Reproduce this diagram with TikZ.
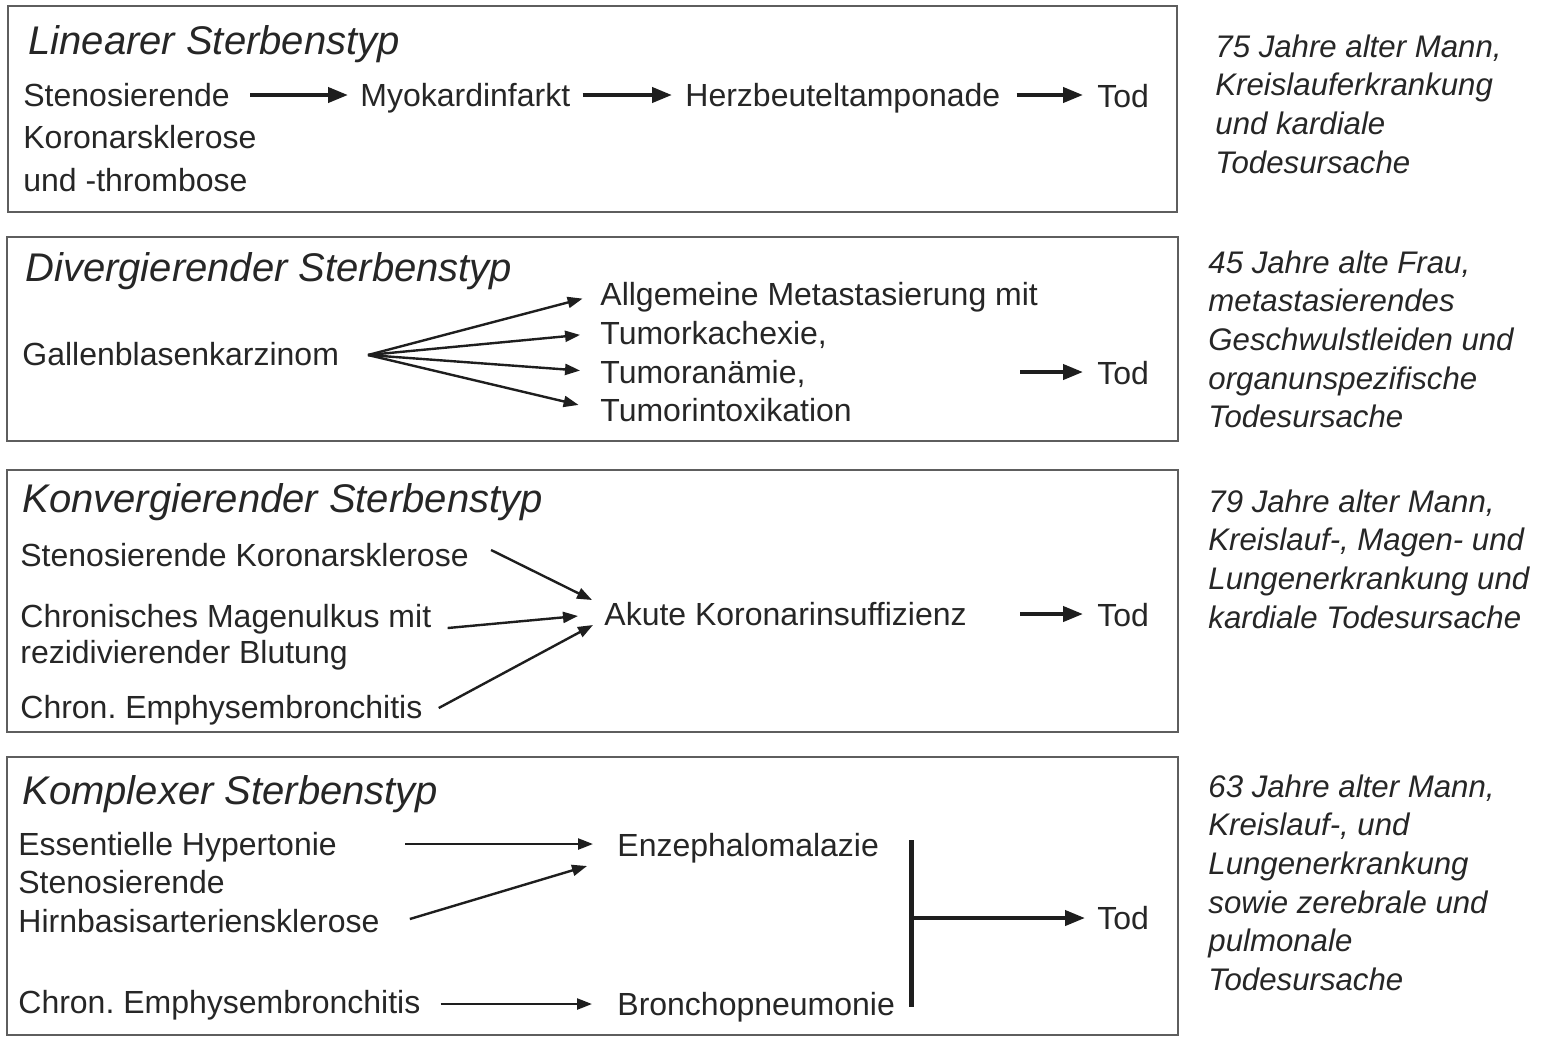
\documentclass[tikz,border=0pt]{standalone}
\usepackage{fontspec}
\setmainfont{Liberation Sans}
\usetikzlibrary{arrows.meta,positioning}
\definecolor{ink}{HTML}{262626}
\definecolor{frame}{HTML}{5E5E5E}

\begin{document}
\begin{tikzpicture}[x=0.5pt,y=-0.5pt,every node/.style={inner sep=0pt,text=ink}]
\tikzstyle{txt} = [anchor=west, text height=11.5pt, text depth=0pt, font=\fontsize{16}{20}\selectfont]
\tikzstyle{ttl} = [anchor=west, text height=14.4pt, text depth=0pt, font=\fontsize{20}{24}\selectfont\itshape]
\tikzstyle{info} = [anchor=north west, align=left, font=\fontsize{15.6}{19.35}\selectfont\itshape]
\tikzstyle{frm} = [draw=frame, line width=1pt]
\tikzstyle{bold} = [-{Triangle[length=10pt,width=7.5pt]}, line width=2pt, draw=ink!80!black]
\tikzstyle{thin} = [-{Triangle[length=7.5pt,width=5.5pt]}, line width=1.2pt, draw=ink!80!black]

\useasboundingbox (0,0) rectangle (1550,1040);
\fill[white] (0,0) rectangle (1550,1040);

\draw[frm] (8,6) rectangle (1177,212);
\draw[frm] (7,237) rectangle (1178,441);
\draw[frm] (7,470) rectangle (1178,732);
\draw[frm] (7,757) rectangle (1178,1035);

\node[ttl] (t1) at (28,40) {Linearer Sterbenstyp};
\node[txt] (s1) at (23,95) {Stenosierende};
\node[txt] (s2) at (23,137) {Koronarsklerose};
\node[txt] (s3) at (23,180) {und -thrombose};
\node[txt] (myo) at (360,95) {Myokardinfarkt};
\node[txt] (hbt) at (685,95) {Herzbeuteltamponade};
\node[txt] (tod1) at (1097,96) {Tod};
\node[info] (i1) at (1215,34) {75 Jahre alter Mann,\\Kreislauferkrankung\\und kardiale\\Todesursache};

\draw[bold, shorten <=10pt, shorten >=6pt] (s1.east) -- (s1.east -| myo.west);
\draw[bold, shorten <=6pt, shorten >=6.5pt] (myo.east |- s1.east) -- (s1.east -| hbt.west);
\draw[bold, shorten <=8pt, shorten >=7pt] (hbt.east |- s1.east) -- (s1.east -| tod1.west);

\node[ttl] (t2) at (25,267) {Divergierender Sterbenstyp};
\node[txt] (gal) at (22,354) {Gallenblasenkarzinom};
\coordinate (fan) at (368,355);
\node[txt] (m1) at (600,294) {Allgemeine Metastasierung mit};
\node[txt] (m2) at (600,333) {Tumorkachexie,};
\node[txt] (m3) at (600,372) {Tumoranämie,};
\node[txt] (m4) at (600,410) {Tumorintoxikation};
\node[txt] (tod2) at (1097,373) {Tod};
\coordinate (d2) at (1020,372);
\node[info] (i2) at (1208,250) {45 Jahre alte Frau,\\metastasierendes\\Geschwulstleiden und\\organunspezifische\\Todesursache};

\foreach \m/\gap in {m1/9pt,m2/10pt,m3/10pt,m4/11pt}
  \draw[thin, shorten >=\gap] (fan) -- (\m.west);
\draw[bold, shorten >=7pt] (d2) -- (d2 -| tod2.west);

\node[ttl] (t3) at (22,498) {Konvergierender Sterbenstyp};
\node[txt] (k1) at (20,555) {Stenosierende Koronarsklerose};
\node[txt] (k2) at (20,616) {Chronisches Magenulkus mit};
\node[txt] (k2b) at (20,652) {rezidivierender Blutung};
\node[txt] (k3) at (20,707) {Chron.\ Emphysembronchitis};
\node[txt] (aku) at (604,614) {Akute Koronarinsuffizienz};
\node[txt] (tod3) at (1097,615) {Tod};
\coordinate (d3) at (1020,614);
\node[info] (i3) at (1208,489) {79 Jahre alter Mann,\\Kreislauf-, Magen- und\\Lungenerkrankung und\\kardiale Todesursache};

\draw[thin] ([shift={(22,-5)}]k1.east) -- ([shift={(-12,-14)}]aku.west);
\draw[thin] ([shift={(16,12)}]k2.east) -- ([shift={(-26,2)}]aku.west);
\draw[thin] ([shift={(16,1)}]k3.east) -- ([shift={(-11,11)}]aku.west);
\draw[bold, shorten >=7pt] (d3) -- (d3 -| tod3.west);

\node[ttl] (t4) at (22,790) {Komplexer Sterbenstyp};
\node[txt] (h1) at (18,844) {Essentielle Hypertonie};
\node[txt] (h2) at (18,882) {Stenosierende};
\node[txt] (h3) at (18,921) {Hirnbasisarteriensklerose};
\node[txt] (h4) at (18,1002) {Chron.\ Emphysembronchitis};
\node[txt] (enz) at (617,845) {Enzephalomalazie};
\node[txt] (bro) at (617,1004) {Bronchopneumonie};
\node[txt] (tod4) at (1097,918) {Tod};
\coordinate (bt) at (911,840);
\coordinate (bb) at (911,1007);
\node[info] (i4) at (1208,774) {63 Jahre alter Mann,\\Kreislauf-, und\\Lungenerkrankung\\sowie zerebrale und\\pulmonale\\Todesursache};

\draw[thin, shorten <=34pt, shorten >=12pt] (h1.east) -- (h1.east -| enz.west);
\draw[thin] ([shift={(30,-2)}]h3.east) -- ([shift={(-30,21)}]enz.west);
\draw[thin, shorten <=10pt, shorten >=12.5pt] (h4.east |- bro.west) -- (bro.west);
\draw[line width=2.5pt, draw=ink!80!black] (bt) -- (bb);
\draw[bold, shorten >=6pt] (bt |- tod4.west) -- (tod4.west);
\end{tikzpicture}
\end{document}
